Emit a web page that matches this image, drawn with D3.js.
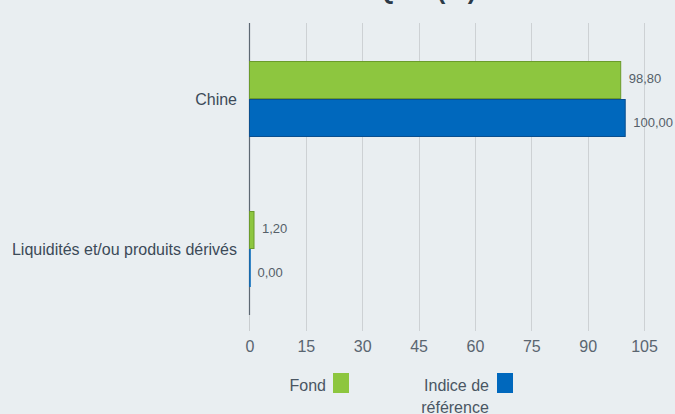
<!DOCTYPE html>
<html><head><meta charset="utf-8">
<script src="https://cdn.jsdelivr.net/npm/d3@7"></script>
<style>
html,body{margin:0;padding:0;background:#e9eef1;}
svg{display:block;font-family:"Liberation Sans",Arial,sans-serif;}
</style></head>
<body><svg id="c" width="675" height="414"></svg>
<script>
const title = "RÉPARTITION GÉOGRAPHIQUE (%)";
const categories = ["Chine", "Liquidités et/ou produits dérivés"];
const seriesNames = ["Fond", "Indice de référence"];
const fondValues = [98.80, 1.20];
const indiceValues = [100.00, 0.00];
const tickValues = [0, 15, 30, 45, 60, 75, 90, 105];
const colors = ["#8dc63f", "#0068bd"];
const strokes = ["#6b9b2b", "#0a4f8f"];

(function () {
const svg = d3.select("#c");
const W = 675, H = 414;
const mLeft = 249.5, mRight = 644, mTop = 24, mBottom = 324;

svg.append("rect").attr("width", W).attr("height", H).attr("fill", "#e9eef1");

svg.append("text").attr("x", 476).attr("y", -1).attr("text-anchor", "end")
  .attr("font-size", 25).attr("font-weight", "bold").attr("fill", "#2b3a48").text(title);

const x = d3.scaleLinear().domain([0, 105]).range([mLeft, mRight]);
const y = d3.scaleBand().domain(categories).range([mTop, mBottom]).paddingInner(0).paddingOuter(0);
const inner = d3.scaleBand().domain(seriesNames).range([0, y.bandwidth()]).paddingInner(0).paddingOuter(0.974);

svg.append("g").selectAll("line").data(tickValues.slice(1)).join("line")
  .attr("x1", d => Math.round(x(d)) + 0.5).attr("x2", d => Math.round(x(d)) + 0.5)
  .attr("y1", 23).attr("y2", 331).attr("stroke", "#cdd1d4").attr("stroke-width", 1);

const axis = d3.axisBottom(x).tickValues(tickValues).tickSize(0).tickPadding(0).tickFormat(d3.format("d"));
const ag = svg.append("g").attr("transform", `translate(0,${mBottom})`).call(axis);
ag.select(".domain").remove();
ag.selectAll("text").attr("y", 28).attr("dy", null).attr("font-size", 16).attr("fill", "#5a6570")
  .attr("font-family", "'Liberation Sans',Arial,sans-serif");

svg.append("line").attr("x1", mLeft).attr("x2", mLeft).attr("y1", 23).attr("y2", 315)
  .attr("stroke", "#5d6873").attr("stroke-width", 1.2);
svg.append("line").attr("x1", mLeft).attr("x2", mLeft).attr("y1", 315).attr("y2", 331)
  .attr("stroke", "#c9cdd0").attr("stroke-width", 1);

svg.append("g").selectAll("text").data(categories).join("text")
  .attr("x", 237).attr("y", d => y(d) + y.bandwidth() / 2 + 6)
  .attr("text-anchor", "end").attr("font-size", 16).attr("fill", "#3c4a58").text(d => d);

const data = categories.map((c, i) => ({cat: c, vals: [fondValues[i], indiceValues[i]]}));
const fmt = v => v.toFixed(2).replace(".", ",");
const offs = [2.5, 9.5];

data.forEach(d => {
  d.vals.forEach((v, j) => {
    const yy = y(d.cat) + inner(seriesNames[j]);
    const w = x(v) - x(0);
    if (w > 0.5) {
      svg.append("rect").attr("x", x(0)).attr("y", yy + 0.5).attr("width", w).attr("height", inner.bandwidth() - 1)
        .attr("fill", colors[j]).attr("stroke", strokes[j]).attr("stroke-width", 1);
    } else {
      svg.append("line").attr("x1", x(0) + 0.5).attr("x2", x(0) + 0.5).attr("y1", yy).attr("y2", yy + inner.bandwidth())
        .attr("stroke", colors[j]).attr("stroke-width", 1.5);
    }
    svg.append("text").attr("x", x(v) + 8).attr("y", yy + inner.bandwidth() / 2 + offs[j])
      .attr("font-size", 13).attr("fill", "#555f69").text(fmt(v));
  });
});

const lg = svg.append("g");
lg.append("text").attr("x", 326).attr("y", 391).attr("text-anchor", "end").attr("font-size", 16).attr("fill", "#4a5663").text(seriesNames[0]);
lg.append("rect").attr("x", 333).attr("y", 373).attr("width", 16).attr("height", 20).attr("fill", colors[0]);
const t2 = lg.append("text").attr("text-anchor", "middle").attr("font-size", 16).attr("fill", "#4a5663");
t2.append("tspan").attr("x", 456.5).attr("y", 391).text("Indice de");
t2.append("tspan").attr("x", 455).attr("y", 413).text("référence");
lg.append("rect").attr("x", 497).attr("y", 373).attr("width", 16).attr("height", 20).attr("fill", colors[1]);
})();
</script></body></html>
